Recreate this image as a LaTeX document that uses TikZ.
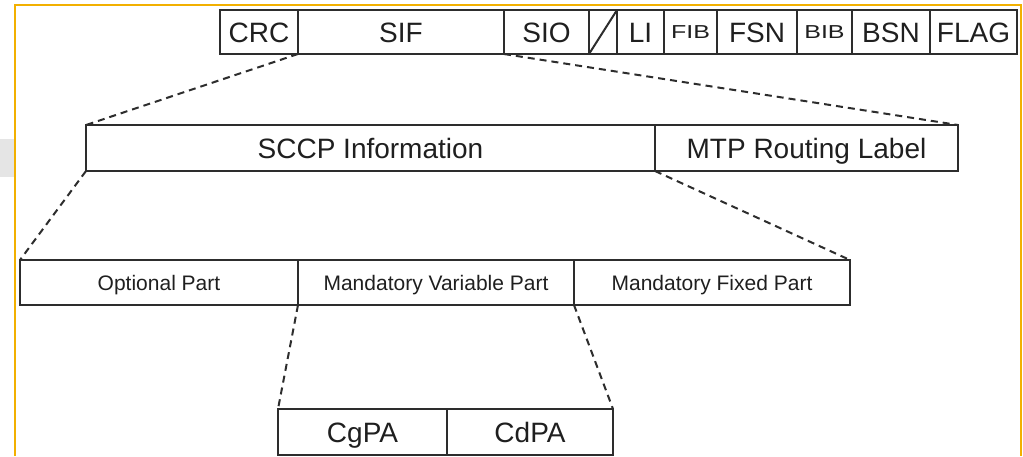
\documentclass[tikz,border=0pt]{standalone}
\usepackage{fontspec}
\setmainfont{Liberation Sans}
\definecolor{framecol}{RGB}{242,176,0}
\definecolor{linecol}{RGB}{45,45,45}
\definecolor{bandcol}{RGB}{229,229,229}
\tikzset{
  cell/.style={draw=linecol, line width=2pt, rectangle, inner sep=0pt, outer sep=0pt,
    text=black!88, text height=20pt, text depth=0pt, font=\fontsize{28}{30}\selectfont},
  smallcell/.style={cell, text height=15pt, font=\fontsize{21}{24}\selectfont},
  zoomline/.style={draw=linecol, line width=2pt, dash pattern=on 7pt off 5pt},
  frameline/.style={draw=framecol, line width=2.6pt}
}
\newcommand{\narrowcaps}[1]{\scalebox{1}[0.75]{\fontsize{25}{27}\selectfont #1}}
\begin{document}
\begin{tikzpicture}[x=1pt, y=-1pt]
\useasboundingbox (0,0) rectangle (1023,456);

% window background pieces
\fill[bandcol] (0,139) rectangle (14,177);
\draw[frameline] (15,456) -- (15,5) -- (1021,5) -- (1021,456);

% signal unit fields
\node[cell, minimum width=78pt, minimum height=44pt] (crc) at (259,32) {CRC};
\node[cell, minimum width=206pt, minimum height=44pt] (sif) at (401,32) {SIF};
\node[cell, minimum width=85pt, minimum height=44pt] (sio) at (546.5,32) {SIO};
\node[cell, minimum width=28pt, minimum height=44pt] (spare) at (603,32) {};
\node[cell, minimum width=47pt, minimum height=44pt] (li) at (640.5,32) {LI};
\node[cell, minimum width=53pt, minimum height=44pt, text height=13.5pt] (fib) at (690.5,32) {\narrowcaps{FIB}};
\node[cell, minimum width=80pt, minimum height=44pt] (fsn) at (757,32) {FSN};
\node[cell, minimum width=55pt, minimum height=44pt, text height=13.5pt] (bib) at (824.5,32) {\narrowcaps{BIB}};
\node[cell, minimum width=78pt, minimum height=44pt] (bsn) at (891,32) {BSN};
\node[cell, minimum width=87pt, minimum height=44pt] (flag) at (973.5,32) {FLAG};
\draw[linecol, line width=2pt] (spare.south west) -- (spare.north east);

% SIF contents
\node[cell, minimum width=569pt, minimum height=46pt] (sccp) at (370.5,148) {SCCP Information};
\node[cell, minimum width=303pt, minimum height=46pt] (mtp) at (806.5,148) {MTP Routing Label};

% SCCP message parts
\node[smallcell, minimum width=278pt, minimum height=45pt] (opt) at (159,282.5) {Optional Part};
\node[smallcell, minimum width=276pt, minimum height=45pt] (mvar) at (436,282.5) {Mandatory Variable Part};
\node[smallcell, minimum width=276pt, minimum height=45pt] (mfix) at (712,282.5) {Mandatory Fixed Part};

% addresses in the variable part
\node[cell, minimum width=169pt, minimum height=46pt] (cg) at (362.5,432) {CgPA};
\node[cell, minimum width=166pt, minimum height=46pt] (cd) at (530,432) {CdPA};

% expansion lines
\draw[zoomline] (crc.south east) -- (sccp.north west);
\draw[zoomline] (sif.south east) -- (mtp.north east);
\draw[zoomline] (sccp.south west) -- (opt.north west);
\draw[zoomline] (sccp.south east) -- (mfix.north east);
\draw[zoomline] (mvar.south west) -- (cg.north west);
\draw[zoomline] (mvar.south east) -- (cd.north east);
\end{tikzpicture}
\end{document}
